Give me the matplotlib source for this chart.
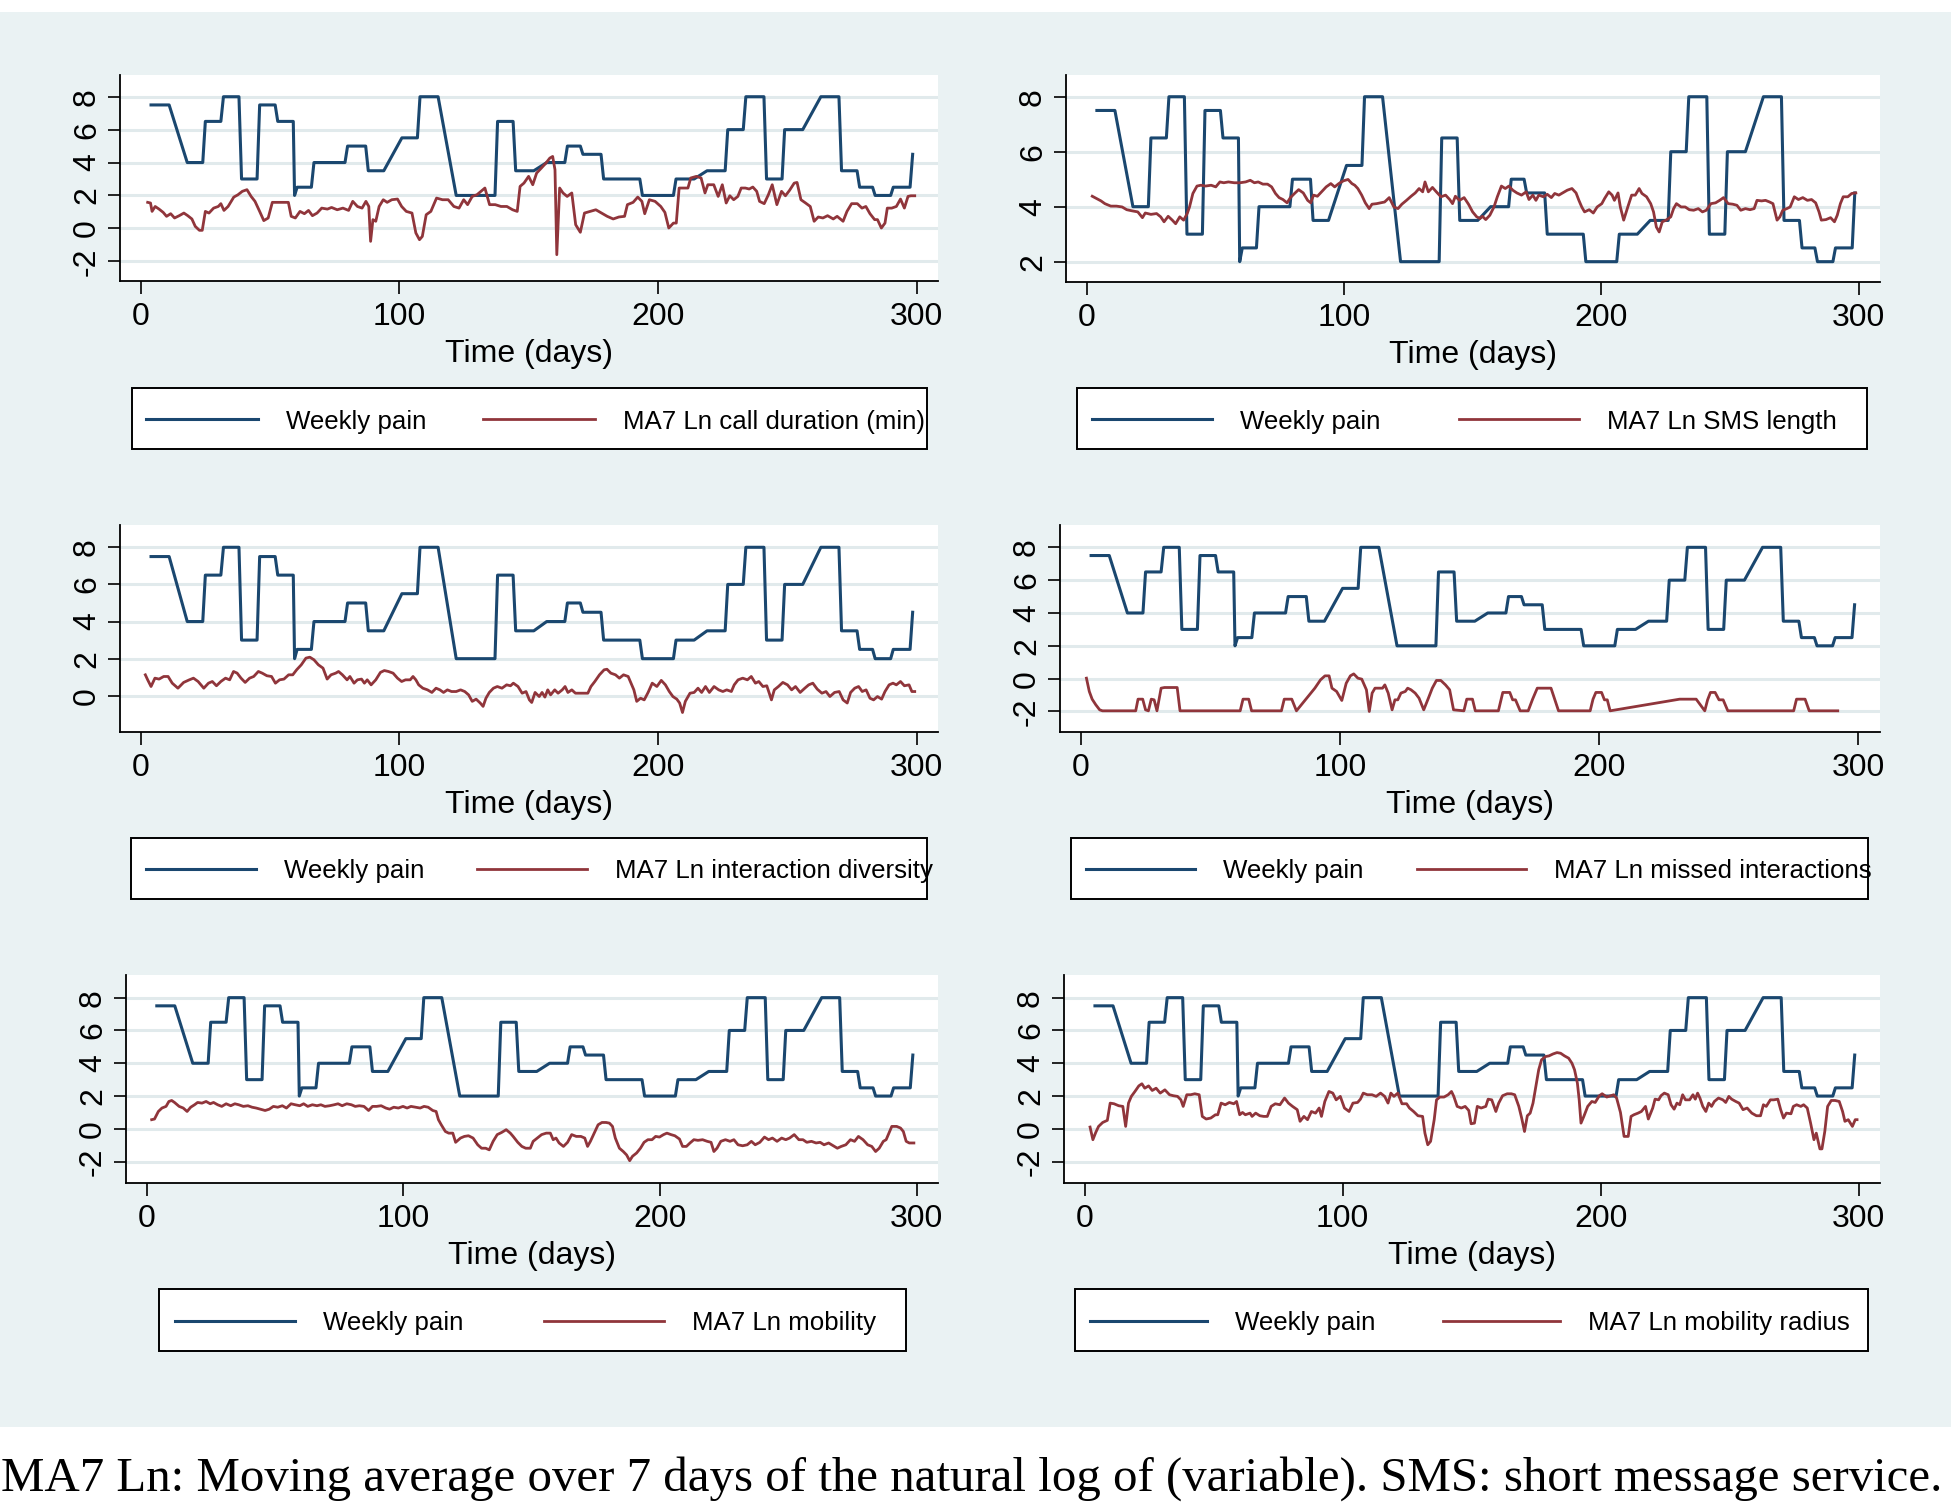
import matplotlib
matplotlib.use("Agg")
import matplotlib.pyplot as plt
import numpy as np
from matplotlib.patches import Rectangle

# weekly pain: (first day, last day, value) of each weekly block
pain_start = [4, 18, 25, 32, 39, 46, 53, 59.5, 60.5, 67, 80, 88, 101, 108, 122, 138, 145, 157, 165, 171,
              179, 194, 207, 219, 227, 234, 242, 249, 263, 271, 278, 284, 291, 298.5]
pain_end = [11, 24, 31, 38, 45, 52, 59, 59.5, 66, 79, 87, 94, 107, 115, 137, 144, 152, 164, 170, 178,
            193, 206, 214, 226, 233, 241, 248, 256, 270, 277, 283, 290, 297.5, 298.5]
pain_value = [7.5, 4, 6.5, 8, 3, 7.5, 6.5, 2, 2.5, 4, 5, 3.5, 5.5, 8, 2, 6.5, 3.5, 4, 5, 4.5,
              3, 2, 3, 3.5, 6, 8, 3, 6, 8, 3.5, 2.5, 2, 2.5, 4.5]

# MA7 Ln series, (day, value)
call_duration = [(2.7, 1.58), (3.8, 1.54), (4.4, 1.03), (5.6, 1.33), (7.1, 1.17), (8.7, 0.97), (10, 0.73),
    (11.6, 0.89), (13.1, 0.63), (14.9, 0.77), (16.7, 0.93), (18.2, 0.77), (19.8, 0.57), (21.1, 0.12),
    (22.7, -0.12), (23.8, -0.12), (25, 1.03), (26.4, 0.93), (28.2, 1.23), (30, 1.33), (31, 1.5),
    (32.2, 1.09), (33.8, 1.33), (36, 1.9), (37.6, 2.04), (39.3, 2.25), (41.1, 2.35), (42.7, 1.94),
    (44.2, 1.64), (46, 1.03), (47.6, 0.47), (49.3, 0.63), (50.9, 1.58), (52.7, 1.58), (54.9, 1.58),
    (57.1, 1.58), (58.2, 0.73), (59.8, 0.63), (61.6, 1.03), (63.3, 0.89), (64.9, 1.09), (66.4, 0.77),
    (68.2, 0.93), (70, 1.23), (72.2, 1.17), (73.8, 1.27), (76, 1.13), (78.2, 1.23), (80.4, 1.09),
    (82, 1.64), (83.8, 1.33), (85.6, 1.23), (87.1, 1.64), (88.2, 1.33), (88.9, -0.79), (89.8, 0.53),
    (90.9, 0.43), (92.2, 1.33), (93.8, 1.74), (95.3, 1.58), (97.1, 1.74), (99.3, 1.78), (100.9, 1.33),
    (102.7, 1.03), (104.9, 0.93), (106.4, -0.28), (107.8, -0.69), (108.9, -0.49), (110.4, 0.83),
    (112.2, 1.03), (114.4, 1.84), (116.7, 1.74), (118.9, 1.74), (121.1, 1.33), (123.1, 1.23),
    (124.9, 1.74), (126.4, 1.44), (128.2, 1.94), (130, 2.04), (131.6, 2.25), (133.1, 2.45), (134.9, 1.44),
    (137.1, 1.44), (139.3, 1.33), (141.6, 1.33), (143.8, 1.13), (145.6, 1.03), (146.7, 2.55),
    (148.2, 2.75), (150, 3.16), (151.6, 2.65), (153.1, 3.36), (154.9, 3.66), (156.7, 3.97), (158.2, 4.27),
    (159.3, 4.37), (160.2, 3.56), (160.9, -1.6), (162, 2.45), (163.3, 2.15), (164.9, 1.94), (166.7, 2.15),
    (168.2, 0.22), (170, -0.24), (171.6, 0.93), (173.8, 1.03), (176, 1.13), (178.2, 0.93), (180.4, 0.73),
    (182.7, 0.57), (184.9, 0.69), (187.1, 0.73), (188.2, 1.44), (190.4, 1.58), (192.2, 1.9), (193.8, 1.64),
    (194.9, 0.89), (196.7, 1.74), (198.9, 1.64), (201.1, 1.33), (202.7, 0.97), (204.2, 0.02), (206, 0.32),
    (207.1, 0.32), (208.2, 2.45), (210, 2.45), (211.6, 2.45), (212.7, 3.06), (214.9, 3.16), (216.7, 3.06),
    (218.2, 2.15), (219.3, 2.65), (221.6, 2.65), (223.3, 1.94), (224.9, 2.65), (226.4, 1.54), (227.8, 1.98),
    (229.3, 1.74), (230.9, 1.94), (232.2, 2.45), (233.8, 2.45), (235.3, 2.39), (236.7, 2.51), (238.2, 2.25),
    (239.3, 1.64), (241.1, 1.5), (242.7, 2.04), (244.2, 2.65), (246, 1.44), (247.8, 2.25), (249.3, 1.98),
    (250.9, 2.31), (252.7, 2.75), (253.8, 2.79), (255.3, 1.74), (257.1, 1.54), (258.9, 1.33), (260.4, 0.43),
    (262, 0.69), (263.8, 0.63), (265.6, 0.77), (267.8, 0.57), (269.3, 0.73), (271.6, 0.43), (273.1, 1.03),
    (274.9, 1.5), (277.1, 1.5), (278.9, 1.23), (280.4, 1.33), (282, 0.89), (283.8, 0.53), (284.9, 0.53),
    (286.4, 0.02), (287.8, 0.32), (288.7, 1.23), (290.4, 1.23), (292.2, 1.33), (293.8, 1.78), (295.3, 1.23),
    (296.7, 1.94), (297.8, 1.98), (299.3, 1.98)]

sms_length = [(2.2, 4.38), (3.8, 4.30), (5.6, 4.21), (7.1, 4.11), (9.4, 4.02), (11.6, 4.02), (13.8, 3.99),
    (15.6, 3.89), (17.6, 3.85), (19.9, 3.81), (21.7, 3.60), (22.8, 3.77), (25, 3.72), (27.2, 3.75),
    (28.8, 3.63), (30.1, 3.45), (31.7, 3.65), (33.3, 3.51), (34.6, 3.38), (36.2, 3.63), (37.7, 3.51),
    (39.1, 3.75), (40, 3.99), (41.3, 4.48), (42.9, 4.75), (44.4, 4.78), (46.2, 4.75), (48.4, 4.78),
    (50.2, 4.72), (51.8, 4.90), (53.3, 4.87), (55.1, 4.90), (57.4, 4.87), (59.6, 4.87), (61.8, 4.90),
    (63.6, 4.96), (65.2, 4.87), (66.7, 4.90), (68.5, 4.82), (70.3, 4.82), (71.9, 4.72), (73.4, 4.48),
    (74.8, 4.33), (76.3, 4.26), (77.9, 4.14), (79.2, 4.33), (80.8, 4.48), (82.4, 4.62), (84.2, 4.50),
    (85.9, 4.23), (87.1, 4.14), (88.2, 4.42), (89.7, 4.38), (91.3, 4.54), (93.1, 4.72), (94.9, 4.84),
    (96.4, 4.72), (98, 4.84), (99.8, 4.94), (101.6, 4.99), (103.1, 4.84), (104.2, 4.78), (105.4, 4.66),
    (106.9, 4.42), (108.3, 4.14), (109.8, 3.93), (110.9, 4.09), (112.7, 4.11), (114.3, 4.14), (115.8, 4.17),
    (117.6, 4.33), (119.4, 3.99), (121, 3.93), (122.5, 4.09), (124.3, 4.23), (126.1, 4.38), (127.7, 4.50),
    (129.2, 4.66), (130.6, 4.54), (131.5, 4.90), (132.8, 4.54), (134.4, 4.70), (135.9, 4.54), (137.7, 4.36),
    (139.5, 4.42), (141.1, 4.26), (142.2, 4.11), (143.3, 4.38), (144.9, 4.23), (146.7, 4.33), (148.4, 4.09),
    (150, 3.81), (151.6, 3.63), (152.9, 3.57), (153.8, 3.65), (155.1, 3.53), (156.7, 3.69), (158.3, 3.99),
    (159.6, 4.36), (161.2, 4.75), (162.7, 4.66), (164.1, 4.75), (165.6, 4.60), (167.2, 4.50), (169, 4.42),
    (170.8, 4.54), (171.9, 4.26), (173.4, 4.42), (174.6, 4.23), (175.7, 4.42), (177.5, 4.36), (179, 4.45),
    (180.6, 4.33), (181.9, 4.48), (183.5, 4.42), (185, 4.50), (186.8, 4.60), (188.6, 4.66), (190.2, 4.50),
    (191.3, 4.23), (192.4, 3.99), (193.5, 3.81), (195.3, 3.89), (196.9, 3.77), (198.4, 3.99), (200.2, 4.11),
    (201.3, 4.30), (202.9, 4.54), (204.2, 4.42), (205.1, 4.23), (206.5, 4.50), (207.4, 3.99), (208.7, 3.51),
    (210.3, 3.99), (211.8, 4.42), (213.2, 4.42), (214.7, 4.66), (215.8, 4.48), (217.6, 4.36), (219.2, 4.11),
    (220.3, 3.81), (221.4, 3.26), (222.5, 3.08), (223.7, 3.45), (225.2, 3.51), (227, 3.63), (228.1, 3.93),
    (229.2, 4.11), (231, 3.99), (232.6, 3.99), (234.2, 3.89), (235.9, 3.87), (237.7, 3.93), (239.3, 3.81),
    (240.8, 3.87), (242.6, 4.11), (244.4, 4.14), (246, 4.23), (247.5, 4.33), (249.3, 4.11), (251.1, 4.09),
    (252.7, 4.05), (254.2, 3.87), (256, 3.93), (257.8, 3.89), (259.4, 3.93), (260.5, 4.23), (262.3, 4.21),
    (263.8, 4.23), (265.4, 4.17), (266.7, 4.11), (268.3, 3.51), (269.4, 3.63), (270.5, 3.87), (272.1, 3.93),
    (273.4, 3.99), (275, 4.36), (276.6, 4.26), (278.3, 4.33), (280.1, 4.23), (281.7, 4.26), (283.3, 4.14),
    (284.6, 3.81), (285.5, 3.51), (287.3, 3.53), (289.1, 3.60), (290.6, 3.45), (291.7, 3.69), (292.9, 4.11),
    (294, 4.36), (295.8, 4.36), (297.3, 4.48), (298.9, 4.50)]

interaction_diversity = [(1.8, 1.13), (2.7, 0.86), (4, 0.50), (5.5, 0.95), (7.1, 0.90), (8.9, 1.04),
    (10.6, 1.04), (12.2, 0.68), (14.4, 0.41), (16.6, 0.72), (18.8, 0.86), (20.4, 0.95), (22.2, 0.77),
    (24.4, 0.41), (26.2, 0.68), (27.7, 0.77), (29.3, 0.54), (31, 0.77), (32.8, 0.95), (34.4, 0.86),
    (35.9, 1.31), (37.3, 1.22), (38.8, 0.95), (40.4, 0.72), (42.1, 0.95), (43.7, 1.04), (45.5, 1.31),
    (47, 1.22), (48.8, 1.08), (50.6, 1.04), (52.1, 0.68), (53.7, 0.86), (55.4, 0.90), (57.2, 1.13),
    (58.8, 1.13), (60.3, 1.40), (62.1, 1.67), (63.9, 2.03), (65.4, 2.08), (67, 1.94), (68.7, 1.67),
    (70.5, 1.49), (72.1, 0.90), (73.6, 1.13), (75.4, 1.22), (76.5, 1.31), (78, 1.13), (79.8, 0.86),
    (80.9, 1.04), (82.5, 0.68), (83.8, 0.86), (85.4, 0.90), (86.5, 0.68), (87.6, 0.86), (89.1, 0.59),
    (90.9, 0.86), (92.7, 1.26), (94.2, 1.36), (95.8, 1.31), (97.6, 1.22), (99.3, 0.95), (100.9, 0.77),
    (102.4, 0.86), (104.2, 0.86), (105.3, 1.04), (106.4, 0.86), (107.5, 0.59), (109.1, 0.41), (110.9, 0.32),
    (112.6, 0.18), (114.2, 0.41), (115.7, 0.32), (117.1, 0.18), (118.6, 0.32), (120.2, 0.23), (122, 0.23),
    (123.7, 0.32), (125.3, 0.23), (126.8, 0.05), (128.2, -0.30), (129.7, -0.18), (131.3, -0.39),
    (132.4, -0.57), (133.5, -0.13), (134.8, 0.18), (136.4, 0.41), (137.9, 0.50), (139.7, 0.41), (141.5, 0.59),
    (143, 0.54), (144.1, 0.68), (145.9, 0.50), (147.5, 0.14), (149, 0.23), (150.3, -0.22), (151.2, -0.36),
    (152.5, 0.18), (154.1, -0.04), (155.2, 0.18), (156.3, -0.07), (157.4, 0.32), (158.5, 0.05), (160.1, 0.32),
    (161.4, 0.14), (163, 0.32), (164.1, 0.50), (165.2, 0.18), (166.7, 0.32), (168.1, 0.14), (169.6, 0.14),
    (171.2, 0.14), (172.9, 0.14), (174.1, 0.50), (175.6, 0.77), (177.4, 1.13), (179.2, 1.40), (180.3, 1.43),
    (181.8, 1.22), (183.6, 1.13), (185.1, 0.95), (186.7, 1.13), (188.5, 1.04), (189.6, 0.68), (190.7, 0.32),
    (191.8, -0.30), (193.3, -0.13), (194.7, -0.22), (196.2, 0.18), (197.8, 0.68), (199.6, 0.50), (201.3, 0.83),
    (202.9, 0.59), (204.4, 0.23), (205.8, -0.04), (207.3, -0.18), (208.4, -0.39), (209.5, -0.90),
    (210.6, -0.30), (212.4, 0.14), (214, 0.18), (215.5, 0.41), (216.9, 0.18), (218.4, 0.50), (219.9, 0.18),
    (221.7, 0.50), (223.5, 0.32), (225.1, 0.23), (226.6, 0.32), (228.4, 0.23), (229.5, 0.59), (231, 0.86),
    (232.8, 0.95), (234.6, 0.86), (236.1, 1.04), (237.7, 0.68), (239, 0.77), (240.6, 0.50), (242.1, 0.54),
    (243.9, -0.22), (245, 0.32), (246.6, 0.50), (248.3, 0.72), (250.1, 0.59), (251.7, 0.32), (253.2, 0.50),
    (255, 0.18), (256.8, 0.41), (258.3, 0.59), (259.9, 0.68), (261.6, 0.36), (263.4, 0.14), (265, 0.23),
    (266.5, -0.04), (268.3, 0.18), (270.1, 0.23), (271.6, -0.22), (273.2, -0.39), (274.5, 0.18), (276.1, 0.41),
    (277.6, 0.50), (279, 0.23), (280.5, 0.32), (282, -0.13), (283.4, -0.22), (284.9, -0.04), (286.5, -0.18),
    (287.8, 0.23), (289.4, 0.59), (290.9, 0.68), (292.2, 0.59), (293.8, 0.77), (295.3, 0.54), (297.1, 0.59),
    (298.2, 0.23), (299.3, 0.23)]

missed_interactions = [(2.2, 0.03), (3.3, -0.78), (4.4, -1.25), (5.8, -1.59), (7.3, -1.90), (8.4, -1.96),
    (21.2, -1.96), (22.1, -1.25), (23.9, -1.25), (25, -1.90), (26.1, -1.96), (27.2, -1.25), (28.3, -1.29),
    (29.4, -1.96), (31, -0.58), (32.3, -0.54), (37.2, -0.54), (38.3, -1.96), (61.5, -1.96), (62.6, -1.25),
    (64.8, -1.25), (65.9, -1.96), (77.4, -1.96), (78.5, -1.25), (81.4, -1.25), (83.2, -1.96), (90.3, -0.58),
    (92.5, -0.07), (94.2, 0.17), (95.8, 0.17), (96.9, -0.58), (98.7, -0.78), (100.7, -1.33), (102.4, -0.28),
    (104, 0.17), (105.3, 0.29), (106.9, 0.03), (108.4, -0.03), (110.2, -0.68), (111.3, -2.0), (112.4, -0.88),
    (113.5, -0.58), (116.4, -0.58), (117.3, -0.38), (118.6, -0.88), (120.1, -1.9), (121.2, -1.29),
    (122.3, -1.29), (123.5, -0.88), (125.2, -0.78), (126.1, -0.58), (127.4, -0.68), (129, -0.88),
    (130.5, -1.19), (132.3, -1.90), (134.1, -1.19), (135.6, -0.58), (137.2, -0.11), (138.9, -0.11),
    (140.7, -0.38), (142.3, -0.68), (143.8, -1.9), (147.8, -1.96), (148.9, -1.25), (151.1, -1.25),
    (152.2, -1.96), (161.1, -1.96), (162.8, -0.84), (165.5, -0.84), (166.6, -1.29), (167.7, -1.29),
    (169.5, -1.96), (172.6, -1.96), (174.3, -1.25), (176.1, -0.58), (181.4, -0.58), (184.3, -1.96),
    (196.5, -1.96), (197.6, -1.25), (198.7, -0.84), (200.9, -0.84), (202, -1.29), (203.1, -1.29),
    (204.2, -1.96), (231, -1.25), (237.4, -1.25), (240.7, -1.96), (241.8, -1.29), (242.9, -0.84),
    (244.7, -0.84), (246.2, -1.29), (247.8, -1.29), (249.6, -1.96), (275, -1.96), (276.1, -1.25),
    (279.4, -1.25), (281, -1.96), (292, -1.96)]

mobility = [(2, 0.56), (3.1, 0.60), (4.6, 1.06), (6, 1.27), (7.6, 1.37), (8.7, 1.67), (9.8, 1.73), (10.9, 1.61),
    (12.7, 1.37), (14.3, 1.27), (15.8, 1.06), (17.2, 1.32), (18.7, 1.47), (19.9, 1.61), (21.6, 1.57),
    (23.2, 1.67), (24.8, 1.53), (26.1, 1.61), (27.7, 1.47), (29.3, 1.37), (31, 1.53), (32.8, 1.41),
    (34.4, 1.53), (35.9, 1.47), (37.7, 1.37), (39.5, 1.41), (41.1, 1.32), (42.7, 1.27), (44.4, 1.20),
    (46.2, 1.12), (47.8, 1.20), (49.4, 1.37), (51.1, 1.32), (52.9, 1.41), (54.5, 1.27), (56.3, 1.53),
    (57.9, 1.47), (59.7, 1.41), (61.2, 1.53), (62.8, 1.37), (64.6, 1.47), (66.4, 1.41), (67.9, 1.47),
    (69.5, 1.37), (71.3, 1.41), (73.1, 1.47), (74.6, 1.53), (76.2, 1.41), (78, 1.53), (79.8, 1.47),
    (81.3, 1.37), (82.9, 1.41), (84.7, 1.37), (86.5, 1.12), (88, 1.37), (89.6, 1.37), (91.4, 1.41),
    (93.2, 1.27), (94.7, 1.20), (96.3, 1.32), (98.1, 1.27), (99.9, 1.37), (101.5, 1.27), (103, 1.37),
    (104.8, 1.32), (106.6, 1.27), (108.1, 1.37), (109.7, 1.32), (111.5, 1.12), (112.8, 1.06), (113.7, 0.56),
    (114.8, 0.25), (116.4, -0.16), (117.7, -0.26), (119.3, -0.26), (120.4, -0.82), (122.3, -0.56),
    (123.8, -0.46), (125.4, -0.42), (127.2, -0.56), (129, -0.97), (130.5, -1.18), (132.1, -1.18),
    (133.5, -1.28), (135, -0.76), (136.6, -0.35), (138.3, -0.22), (140.1, -0.05), (141.7, -0.26),
    (142.8, -0.46), (144.6, -0.82), (146.2, -1.07), (147.7, -1.18), (149.5, -1.18), (150.6, -0.76),
    (152.2, -0.56), (153.9, -0.35), (155.7, -0.26), (157.3, -0.26), (158.4, -0.66), (159.5, -0.56),
    (160.7, -0.86), (162.4, -1.07), (164, -0.82), (165.6, -0.35), (167.4, -0.46), (169.2, -0.46),
    (170.7, -0.56), (171.8, -1.07), (172.9, -0.76), (174.1, -0.35), (175.9, 0.25), (177.4, 0.39),
    (179, 0.39), (180.3, 0.35), (181.5, 0.15), (182.6, -0.56), (184.2, -1.18), (185.7, -1.38), (187, -1.59),
    (188.2, -1.94), (189.3, -1.67), (190.9, -1.47), (192.4, -1.18), (193.8, -0.82), (195.3, -0.66),
    (196.9, -0.66), (198.3, -0.46), (199.8, -0.50), (201.4, -0.35), (202.7, -0.26), (204.3, -0.35),
    (205.8, -0.42), (207.6, -0.62), (208.8, -1.07), (210.3, -1.07), (211.7, -0.86), (213.2, -0.66),
    (214.8, -0.70), (216.6, -0.66), (218.4, -0.76), (219.9, -0.82), (221, -1.38), (222.2, -1.18),
    (223.7, -0.76), (225.5, -0.66), (227.3, -0.76), (228.8, -0.66), (230.4, -0.97), (232.2, -1.03),
    (234, -0.97), (235.6, -0.76), (237.1, -0.97), (238.9, -0.82), (240.7, -0.50), (242.3, -0.66),
    (243.8, -0.56), (245.6, -0.76), (247.4, -0.56), (249, -0.66), (250.5, -0.56), (252.3, -0.35),
    (254.1, -0.66), (255.7, -0.66), (257.2, -0.82), (259, -0.76), (260.8, -0.86), (262.4, -0.82),
    (263.9, -0.97), (265.7, -0.86), (267.5, -1.03), (269.1, -1.18), (270.6, -1.07), (272.4, -0.97),
    (274.2, -0.66), (275.8, -0.76), (277.3, -0.46), (279.1, -0.66), (280.9, -0.97), (282.5, -1.07),
    (284, -1.38), (285.4, -1.18), (287, -0.76), (288.1, -0.66), (289.2, -0.26), (290.3, 0.15), (292.2, 0.15),
    (293.7, 0.05), (294.8, -0.16), (295.9, -0.76), (297.1, -0.86), (298.9, -0.86)]

mobility_radius = [(2.1, 0.11), (3.2, -0.66), (4.3, -0.22), (5.4, 0.15), (7, 0.39), (8.8, 0.52), (9.9, 1.57),
    (11.4, 1.53), (13.2, 1.41), (14.8, 1.37), (15.9, 0.15), (17, 1.57), (18.1, 1.98), (19.5, 2.28),
    (21, 2.62), (22.2, 2.75), (23.3, 2.48), (24.8, 2.62), (26.2, 2.34), (27.7, 2.48), (29.3, 2.18),
    (31.1, 2.38), (32.9, 2.08), (34.4, 2.02), (36, 1.98), (37.3, 1.77), (38.2, 1.37), (39.6, 2.08),
    (41.1, 2.08), (42.7, 2.14), (44.4, 2.08), (45.6, 0.76), (47.1, 0.60), (48.9, 0.66), (50.7, 0.86),
    (51.6, 0.86), (52.9, 1.57), (54.5, 1.47), (56.1, 1.61), (57.8, 1.53), (58.9, 1.67), (60.1, 0.86),
    (61.2, 1.00), (62.3, 0.86), (64.1, 0.96), (64.9, 0.76), (66.3, 0.96), (67.9, 0.80), (69.4, 0.76),
    (70.8, 0.76), (72.3, 1.37), (73.9, 1.53), (75.7, 1.47), (77.5, 1.88), (79, 1.57), (80.6, 1.37),
    (82.4, 1.17), (83.5, 0.46), (85, 0.76), (86.4, 0.56), (87.9, 1.06), (89.5, 0.96), (90.9, 1.27),
    (91.8, 0.76), (93.1, 1.67), (94.7, 2.28), (96.2, 2.18), (97.5, 1.77), (99.1, 1.98), (100.7, 1.27),
    (102.5, 1.06), (104, 1.57), (105.8, 1.61), (106.9, 1.81), (108, 2.18), (109.6, 2.08), (111.4, 2.08),
    (113, 1.98), (114.7, 2.18), (116.3, 1.98), (117.6, 1.57), (118.7, 2.18), (119.9, 1.98), (121.4, 2.18),
    (123, 1.53), (124.8, 1.53), (125.9, 1.27), (127.5, 1.06), (129.2, 0.80), (131, 0.76), (131.9, -0.26),
    (133, -0.97), (134.1, -0.76), (135.5, 0.56), (136.4, 1.77), (137.7, 1.94), (139.3, 1.94), (140.9, 2.08),
    (142.2, 2.28), (143.1, 1.98), (144.4, 1.37), (146, 1.27), (147.5, 1.37), (148.9, 1.12), (149.8, 0.31),
    (151.1, 0.35), (152.2, 1.37), (153.7, 1.27), (155.5, 1.37), (156.4, 1.81), (157.8, 1.77), (159.4, 1.06),
    (160.5, 1.57), (162, 2.02), (163.8, 2.14), (165.4, 2.14), (166.7, 2.08), (168.3, 1.37), (169.4, 0.66),
    (170.5, -0.16), (171.6, 0.80), (172.7, 0.96), (173.8, 1.57), (174.9, 2.58), (176, 3.60), (177.1, 4.21),
    (178.7, 4.41), (180, 4.45), (181.6, 4.57), (183.1, 4.65), (184.5, 4.61), (186, 4.45), (187.6, 4.31),
    (188.9, 4.00), (189.9, 3.60), (191, 2.79), (191.7, 1.77), (192.4, 0.35), (193.5, 0.76), (195, 1.37),
    (196.6, 1.67), (197.9, 1.61), (199.5, 2.02), (200.6, 2.14), (202.4, 1.94), (204, 2.02), (205.1, 2.08),
    (206.2, 1.88), (207.7, 1.00), (209.1, -0.46), (210.7, -0.46), (211.8, 0.76), (212.9, 0.86), (214.5, 0.96),
    (215.8, 1.06), (217.4, 1.37), (218.5, 0.60), (220.2, 1.27), (221.1, 1.81), (222.5, 1.77), (223.4, 2.02),
    (224.7, 2.18), (226.2, 2.08), (227.3, 1.47), (228.5, 1.20), (229.6, 1.57), (230.7, 1.47), (231.8, 2.08),
    (232.9, 1.77), (234.5, 1.77), (235.8, 2.08), (236.7, 1.81), (237.6, 2.18), (238.5, 1.88), (239.6, 1.37),
    (240.8, 1.06), (241.9, 1.57), (243, 1.37), (244.1, 1.67), (245.7, 1.88), (247.4, 1.77), (248.5, 1.61),
    (249.7, 1.98), (250.8, 1.81), (252.4, 1.67), (253.7, 1.57), (255.2, 1.17), (256.8, 1.27), (258.6, 0.96),
    (260.4, 0.80), (262, 0.80), (263.1, 1.47), (264.2, 1.37), (265.8, 1.77), (267.1, 1.77), (268.7, 1.81),
    (269.8, 1.17), (270.9, 0.66), (272, 0.96), (273.8, 0.92), (274.7, 1.37), (276, 1.47), (277.6, 1.37),
    (278.7, 1.47), (280.1, 1.27), (281.4, 0.35), (282.7, -0.66), (283.6, -0.26), (285, -1.22), (285.8, -1.22),
    (286.9, -0.16), (288, 1.37), (289.4, 1.73), (290.9, 1.73), (292.5, 1.67), (293.8, 1.06), (294.7, 0.46),
    (296, 0.56), (297.6, 0.15), (298.7, 0.56), (299.4, 0.56)]

series_labels = ["MA7 Ln call duration (min)", "MA7 Ln SMS length", "MA7 Ln interaction diversity",
                 "MA7 Ln missed interactions", "MA7 Ln mobility", "MA7 Ln mobility radius"]
series_data = [call_duration, sms_length, interaction_diversity, missed_interactions, mobility, mobility_radius]
y_ticks = [[-2, 0, 2, 4, 6, 8], [2, 4, 6, 8], [0, 2, 4, 6, 8],
           [-2, 0, 2, 4, 6, 8], [-2, 0, 2, 4, 6, 8], [-2, 0, 2, 4, 6, 8]]
x_ticks = [0, 100, 200, 300]

caption = "MA7 Ln: Moving average over 7 days of the natural log of (variable). SMS: short message service."

# layout in pixels of the 1951x1508 canvas: axes (left, top, right, bottom), legend box,
# where each legend key starts and how long the key lines are
W, H = 1951, 1508
axes_px = [(120, 75, 938, 281), (1066, 75, 1880, 282),
           (120, 525, 938, 732), (1060, 525, 1880, 732),
           (126, 975, 938, 1183), (1064, 975, 1880, 1183)]
legend_px = [(132, 388, 927, 449), (1077, 388, 1867, 449),
             (131, 838, 927, 899), (1071, 838, 1868, 899),
             (159, 1289, 906, 1351), (1075, 1289, 1868, 1351)]
key1_px = [146, 1092, 146, 1086, 175, 1090]
key2_px = [483, 1459, 477, 1417, 544, 1443]
key_len_px = [112, 120, 110, 109, 120, 117]
y_limits = [(-3.2, 9.32), (1.26, 8.79), (-1.95, 9.2), (-3.25, 9.36), (-3.3, 9.38), (-3.3, 9.38)]

navy = "#1A476F"
maroon = "#90353B"
bg = "#EAF2F3"
grid = "#E1EAEC"

plt.rcParams["font.family"] = ["Liberation Sans", "DejaVu Sans"]
plt.rcParams["axes.unicode_minus"] = False

fig = plt.figure(figsize=(W / 100, H / 100), dpi=100, facecolor="white")
fig.patches.append(Rectangle((0, 1 - 1427 / H), 1, (1427 - 12) / H, transform=fig.transFigure,
                             facecolor=bg, edgecolor="none", zorder=-10))

pain_x = np.column_stack([pain_start, pain_end]).ravel()
pain_y = np.repeat(pain_value, 2)

leg_size = 18.6
leg_kw = dict(loc="center left", bbox_transform=fig.transFigure, fontsize=leg_size, frameon=False,
              handletextpad=1.1, borderpad=0, borderaxespad=0)

for i in range(6):
    l, t, r, b = axes_px[i]
    ax = fig.add_axes([l / W, 1 - b / H, (r - l) / W, (b - t) / H])
    ax.set_facecolor("white")
    d = np.array(series_data[i])
    h1, = ax.plot(pain_x, pain_y, color=navy, lw=2.2, zorder=3)
    h2, = ax.plot(d[:, 0], d[:, 1], color=maroon, lw=2.0, zorder=3)
    ax.set_xlim(-8, 308.3)
    ax.set_ylim(*y_limits[i])
    ax.set_xticks(x_ticks)
    ax.set_yticks(y_ticks[i])
    for yv in y_ticks[i]:
        ax.axhline(yv, color=grid, lw=2.2, zorder=1)
    for s in ["top", "right"]:
        ax.spines[s].set_visible(False)
    for s in ["left", "bottom"]:
        ax.spines[s].set_linewidth(1.3)
    ax.tick_params(direction="out", length=9, width=1.2, labelsize=23, pad=6)
    ax.tick_params(axis="y", pad=4)
    plt.setp(ax.get_yticklabels(), rotation=90, va="center")
    ax.set_xlabel("Time (days)", fontsize=23, labelpad=5.5)

    # legend: frame plus the two keys, placed like the original
    ll, lt, lr, lb = legend_px[i]
    fig.patches.append(Rectangle((ll / W, 1 - lb / H), (lr - ll) / W, (lb - lt) / H,
                                 transform=fig.transFigure, facecolor="white", edgecolor="black",
                                 lw=1.4, zorder=-5))
    yc = 1 - ((lt + lb) / 2 + 3) / H
    hl = key_len_px[i] / (leg_size * 100 / 72)
    leg1 = ax.legend([h1], ["Weekly pain"], bbox_to_anchor=(key1_px[i] / W, yc), handlelength=hl, **leg_kw)
    ax.add_artist(leg1)
    ax.legend([h2], [series_labels[i]], bbox_to_anchor=(key2_px[i] / W, yc), handlelength=hl, **leg_kw)

fig.text(1 / W, 1 - 1491 / H, caption, family="Liberation Serif", fontsize=35.2, ha="left", va="baseline")

fig.savefig("out.png", dpi=100, facecolor="white")
